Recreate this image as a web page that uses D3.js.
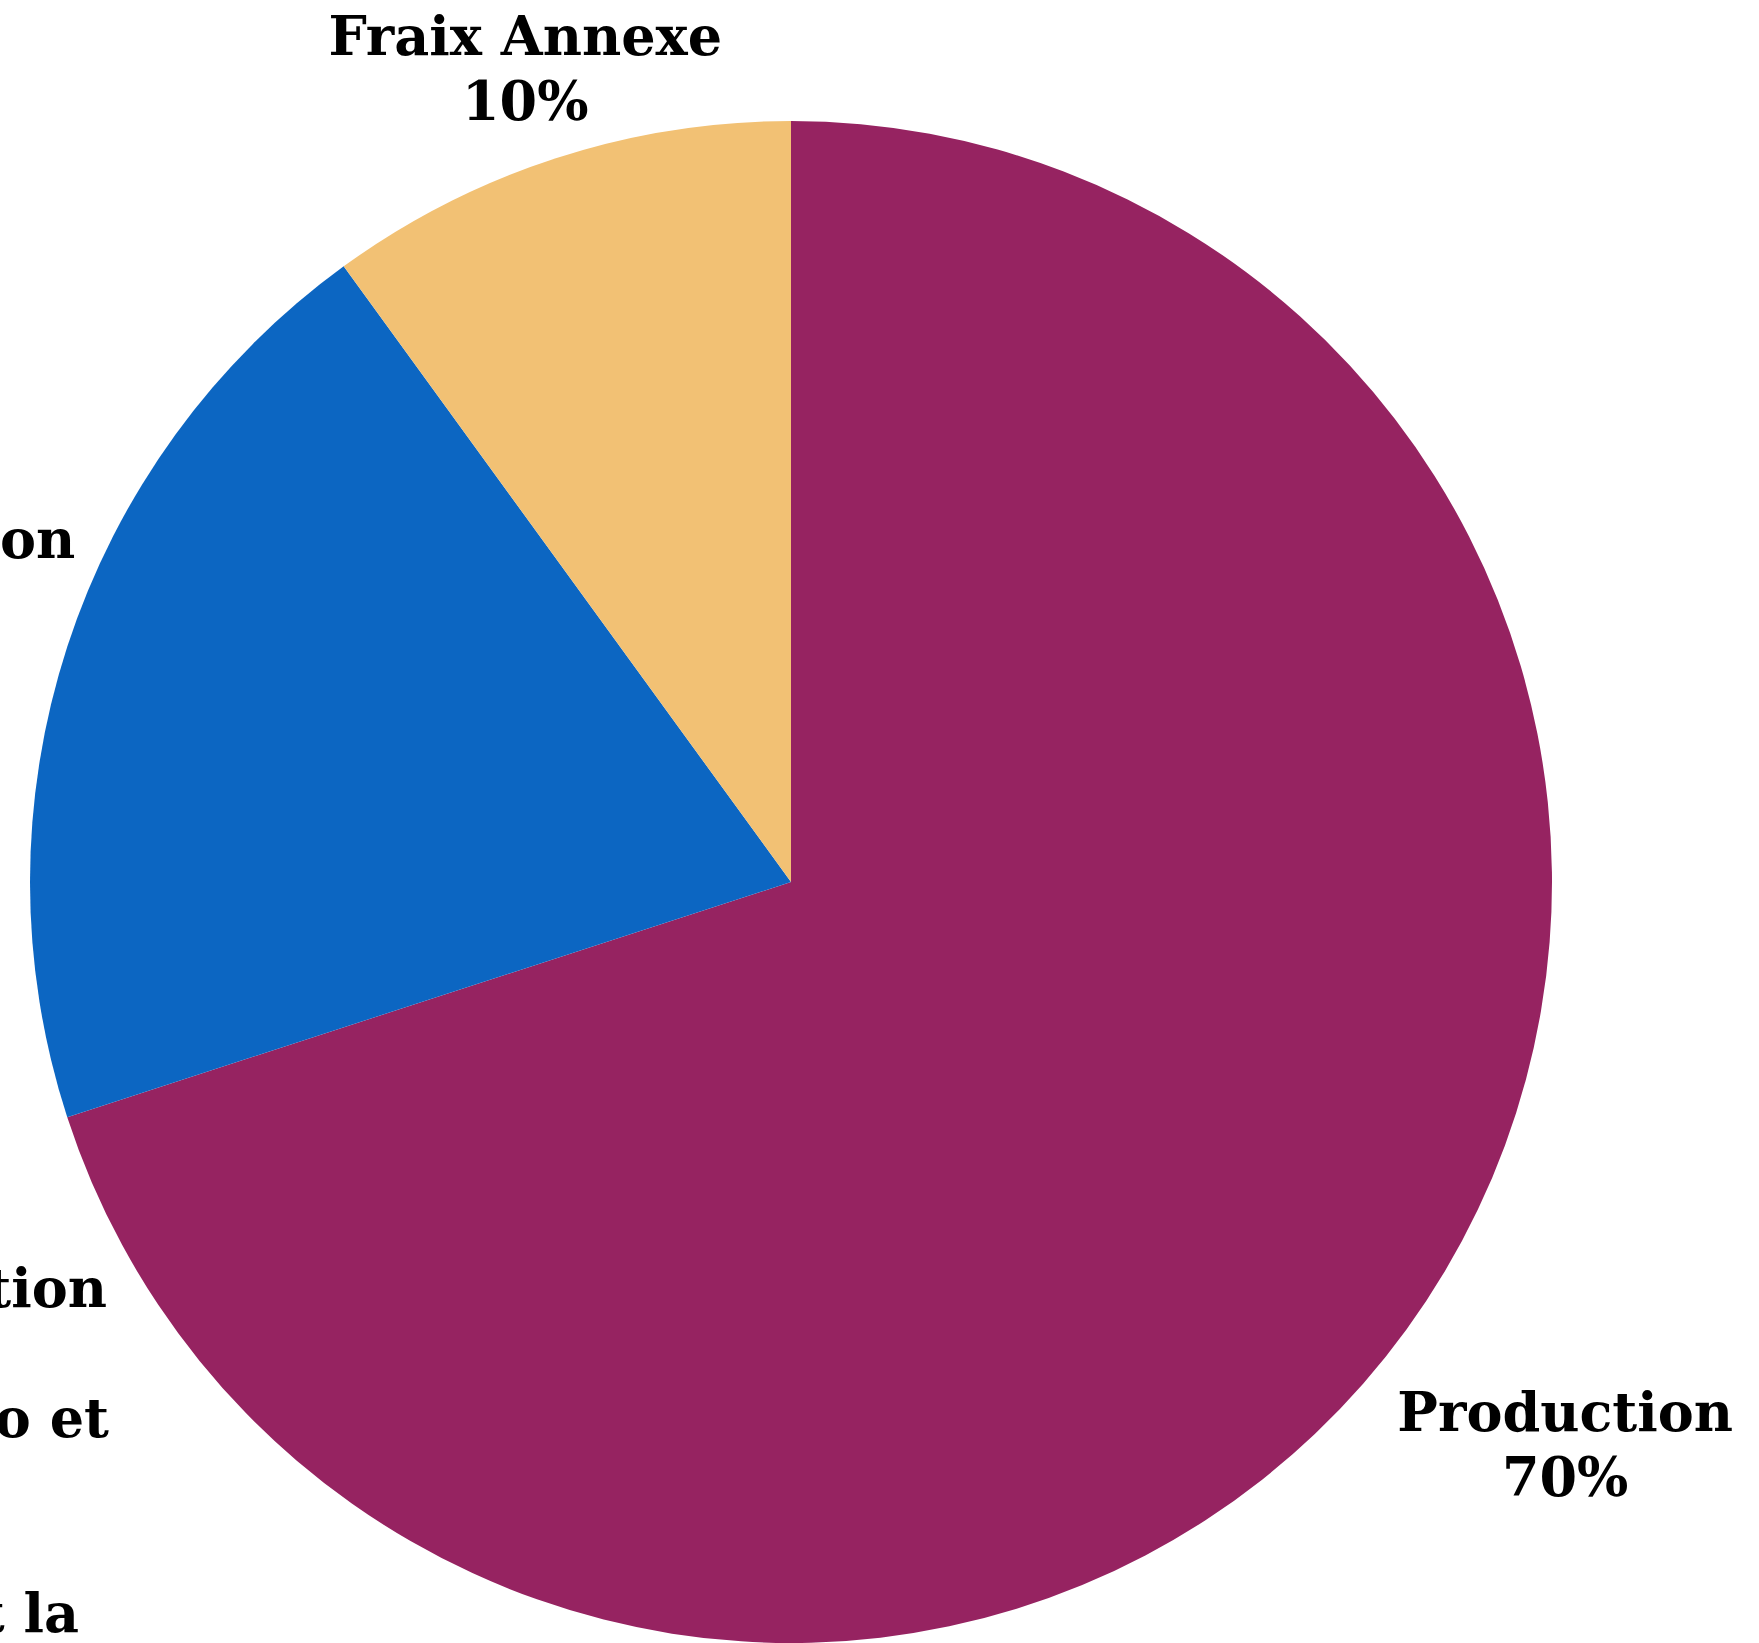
<!DOCTYPE html>
<html>
<head>
<meta charset="utf-8">
<script src="https://cdn.jsdelivr.net/npm/d3@7"></script>
<style>
  html, body { margin: 0; padding: 0; background: #fff; overflow: hidden; }
  text { font-family: "DejaVu Serif", serif; font-weight: bold; fill: #000; }
</style>
</head>
<body>
<div id="chart"></div>
<script>
(function(){
    var width = 1759, height = 1643;

    // data
    var categories = ["Production", "Communication", "Fraix Annexe"];
    var shares = [70, 20, 10];
    var colors = ["#962361", "#0c66c2", "#f2c174"];
    var noteLines = ["Post-production", "", "Montage vidéo et", "", "", "Promotion et la"];

    var cx = 791, cy = 882, radius = 761;
    var fontSize = 54, lineH = 65;

    var svg = d3.select('#chart')
    .append("svg")
    .attr("width", width)
    .attr("height", height)

    svg.append("rect").attr("width", width).attr("height", height).attr("fill", "#fff")

    var g = svg.append("g")
    .attr("transform", "translate(" + cx + "," + cy + ")")

    var datapoints = categories.map(function(c, i){
        return {name: c, value: shares[i], color: colors[i]};
    })

    var pie = d3.pie().sort(null).value(function(d){ return d.value; })
    var arc = d3.arc().innerRadius(0).outerRadius(radius)

    var arcs = pie(datapoints)

    g.selectAll(".slice")
    .data(arcs)
    .enter().append("path")
    .attr("class", "slice")
    .attr("d", arc)
    .attr("fill", function(d){ return d.data.color; })

    // labels outside, pushed out by part of their width
    var labels = g.selectAll(".label")
    .data(arcs)
    .enter().append("text")
    .attr("class", "label")
    .attr("text-anchor", "middle")
    .style("font-size", fontSize + "px")

    labels.append("tspan").attr("x", 0).attr("dy", 0)
    .text(function(d){ return d.data.name; })
    labels.append("tspan").attr("x", 0).attr("dy", lineH)
    .text(function(d){ return d.data.value + "%"; })

    labels.each(function(d){
        var el = d3.select(this);
        var hw = this.getBBox().width / 2;
        var a = (d.startAngle + d.endAngle) / 2;
        var dx = Math.sin(a), dy = -Math.cos(a);
        var dist = radius + 84 + hw * 0.667;
        var x = dx * dist, y = dy * dist;
        // keep it inside the top edge
        var minY = 68 - cy;
        if (y < minY) {
            y = minY;
            x = dx * (radius + 30) + dx * hw * 0.35;
        }
        el.attr("transform", "translate(" + x + "," + (y - 13) + ")");
    })

    // note text at the left edge
    var note = svg.append("text")
    .attr("text-anchor", "end")
    .style("font-size", fontSize + "px")

    var noteRight = [107, 0, 109, 0, 0, 79];
    noteLines.forEach(function(t, i){
        if (!t) return;
        note.append("tspan")
        .attr("x", noteRight[i])
        .attr("y", 1307 + i * lineH)
        .text(t)
    })
})();
</script>
</body>
</html>
